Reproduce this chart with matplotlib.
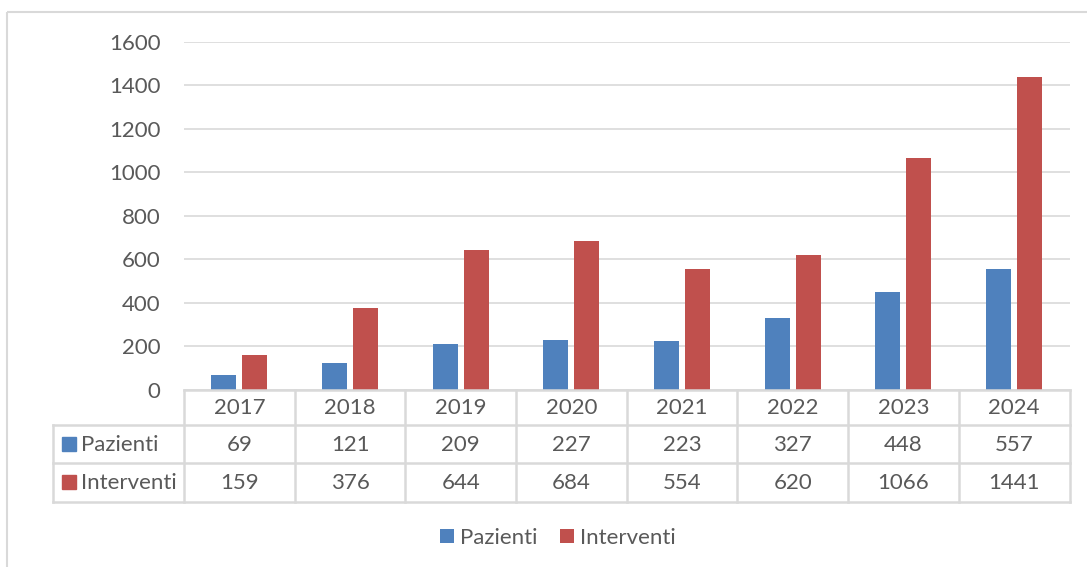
import matplotlib
matplotlib.use("Agg")
from matplotlib import pyplot as plt
from matplotlib.patches import Rectangle
from matplotlib.transforms import blended_transform_factory

# dati
anni = ["2017", "2018", "2019", "2020", "2021", "2022", "2023", "2024"]
pazienti = [69, 121, 209, 227, 223, 327, 448, 557]
interventi = [159, 376, 644, 684, 554, 620, 1066, 1441]
serie = ["Pazienti", "Interventi"]
colori = ["#4F81BD", "#C0504D"]

grigio_testo = "#595959"
grigio_linee = "#D9D9D9"
plt.rcParams["font.family"] = ["Lato", "DejaVu Sans"]
fs = 16

W, H = 1087, 567
fig = plt.figure(figsize=(W / 100, H / 100), dpi=100)

# area del grafico (in pixel)
x0, x1 = 184, 1069.5
y_top, y_zero = 42, 389.5
ax = fig.add_axes([x0 / W, 1 - y_zero / H, (x1 - x0) / W, (y_zero - y_top) / H])

n = len(anni)
larg = 0.226
gap = 0.054
pos = list(range(n))
ax.bar([p - (larg + gap) / 2 for p in pos], pazienti, width=larg, color=colori[0], label=serie[0], zorder=3)
ax.bar([p + (larg + gap) / 2 for p in pos], interventi, width=larg, color=colori[1], label=serie[1], zorder=3)

ax.set_xlim(-0.5, n - 0.5)
ax.set_ylim(0, 1600)
ax.set_yticks(range(0, 1601, 200))
ax.set_xticks([])
ax.grid(axis="y", color=grigio_linee, linewidth=1.2, zorder=0)
for s in ax.spines.values():
    s.set_visible(False)
ax.tick_params(axis="y", length=0, pad=17, labelsize=fs, labelcolor=grigio_testo)

# sovrapposizione in pixel per tabella, bordo e legenda
ov = fig.add_axes([0, 0, 1, 1], zorder=5)
ov.set_xlim(0, W)
ov.set_ylim(H, 0)
ov.axis("off")
ov.patch.set_alpha(0)

# bordo esterno
ov.add_patch(Rectangle((7, 12), W, H, fill=False, edgecolor=grigio_linee, linewidth=1.5))

# tabella dati
tr = blended_transform_factory(ax.transData, ov.transData)
righe = [389.5, 425, 463, 501.5]
lw = 1.8
x_sin = 53
# linee orizzontali
ov.plot([x0, x1], [righe[0], righe[0]], color=grigio_linee, lw=lw)
for r in righe[1:]:
    ov.plot([x_sin, x1], [r, r], color=grigio_linee, lw=lw)
# linee verticali
ov.plot([x_sin, x_sin], [righe[1], righe[3]], color=grigio_linee, lw=lw)
for i in range(n + 1):
    ov.plot([i - 0.5, i - 0.5], [righe[0], righe[3]], color=grigio_linee, lw=lw, transform=tr)

for i, a in enumerate(anni):
    ov.text(i, (righe[0] + righe[1]) / 2 + 1, a, ha="center", va="center", fontsize=fs, color=grigio_testo, transform=tr)
    ov.text(i, (righe[1] + righe[2]) / 2 + 1, str(pazienti[i]), ha="center", va="center", fontsize=fs, color=grigio_testo, transform=tr)
    ov.text(i, (righe[2] + righe[3]) / 2 + 1, str(interventi[i]), ha="center", va="center", fontsize=fs, color=grigio_testo, transform=tr)

for k, nome in enumerate(serie):
    yc = (righe[k + 1] + righe[k + 2]) / 2
    ov.add_patch(Rectangle((62, yc - 7), 14, 14, color=colori[k]))
    ov.text(81, yc + 1, nome, ha="left", va="center", fontsize=fs, color=grigio_testo)

# legenda
h, l = ax.get_legend_handles_labels()
fig.legend(h, l, loc="center", bbox_to_anchor=(558 / W, 1 - 538 / H), ncol=2, frameon=False,
           fontsize=fs, labelcolor=grigio_testo, handlelength=0.62, handleheight=0.62,
           handletextpad=0.3, columnspacing=1.0)

fig.savefig("out.png", dpi=100)
